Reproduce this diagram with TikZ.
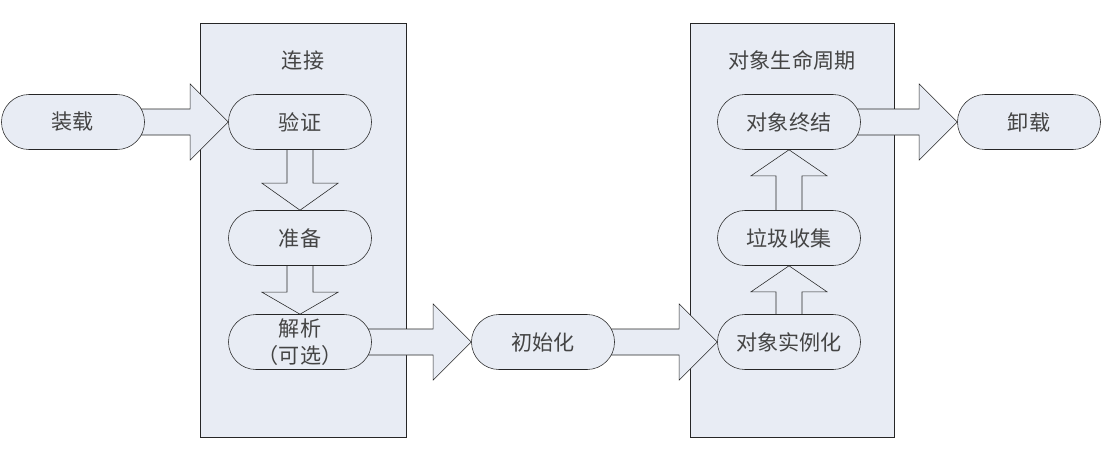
\documentclass[tikz,border=0pt]{standalone}
\usepackage{fontspec}
\newfontfamily\cjk{Noto Sans CJK SC}
\usetikzlibrary{shapes.misc, calc, positioning}
\definecolor{cfill}{HTML}{E8ECF4}
\definecolor{cline}{HTML}{262626}
\definecolor{ctext}{HTML}{444444}
\pgfdeclarelayer{back}
\pgfdeclarelayer{mid}
\pgfsetlayers{back,mid,main}
\tikzset{
  every picture/.style={x=0.025cm, y=-0.025cm, line width=1pt},
  stage/.style={rounded rectangle, draw=cline, fill=cfill, minimum width=3.575cm, minimum height=1.375cm, inner sep=0pt, align=center, font=\cjk\fontsize{15}{19}\selectfont, text=ctext},
  group/.style={draw=cline, fill=cfill, minimum width=#1, minimum height=10.35cm, inner sep=0pt},
  grouptitle/.style={font=\cjk\fontsize{15}{19}\selectfont, text=ctext},
  fat/.style={draw=cline, fill=cfill, line join=miter},
}
% block arrow: from, to (tip), head length
\newcommand{\fatarrow}[3]{%
  \begin{pgfonlayer}{mid}
  \coordinate (fa-c) at ($(#2)!#3!(#1)$);
  \draw[fat] ($(#1)!0.325cm!90:(#2)$) -- ($(fa-c)!0.325cm!90:(#2)$) -- ($(fa-c)!0.95cm!90:(#2)$) -- (#2)
    -- ($(fa-c)!0.95cm!-90:(#2)$) -- ($(fa-c)!0.325cm!-90:(#2)$) -- ($(#1)!0.325cm!-90:(#2)$) -- cycle;
  \end{pgfonlayer}}

\begin{document}
\begin{tikzpicture}
  \useasboundingbox (0,0) rectangle (1112,450);
  \begin{pgfonlayer}{back}
    \node[group=5.15cm] (link) at (303,230) {};
    \node[group=5.1cm] (life) at (792,230) {};
  \end{pgfonlayer}
  \node[grouptitle] (linkt) at (303,60) {连接};
  \node[grouptitle] (lifet) at (792,60) {对象生命周期};
  \node[stage] (load) at (73,122) {装载};
  \node[stage] (verify) at (300,122) {验证};
  \node[stage] (prepare) at (300,238) {准备};
  \node[stage] (resolve) at (300,342) {解析\\（可选）};
  \node[stage] (init) at (543,342) {初始化};
  \node[stage] (inst) at (789,342) {对象实例化};
  \node[stage] (gc) at (789,238) {垃圾收集};
  \node[stage] (final) at (789,122) {对象终结};
  \node[stage] (unload) at (1029,122) {卸载};
  \fatarrow{load}{verify.west}{0.95cm}
  \fatarrow{verify}{prepare.north}{0.675cm}
  \fatarrow{prepare}{resolve.north}{0.55cm}
  \fatarrow{resolve}{init.west}{0.95cm}
  \fatarrow{init}{inst.west}{0.95cm}
  \fatarrow{inst}{gc.south}{0.65cm}
  \fatarrow{gc}{final.south}{0.65cm}
  \fatarrow{final}{unload.west}{0.95cm}
\end{tikzpicture}
\end{document}
